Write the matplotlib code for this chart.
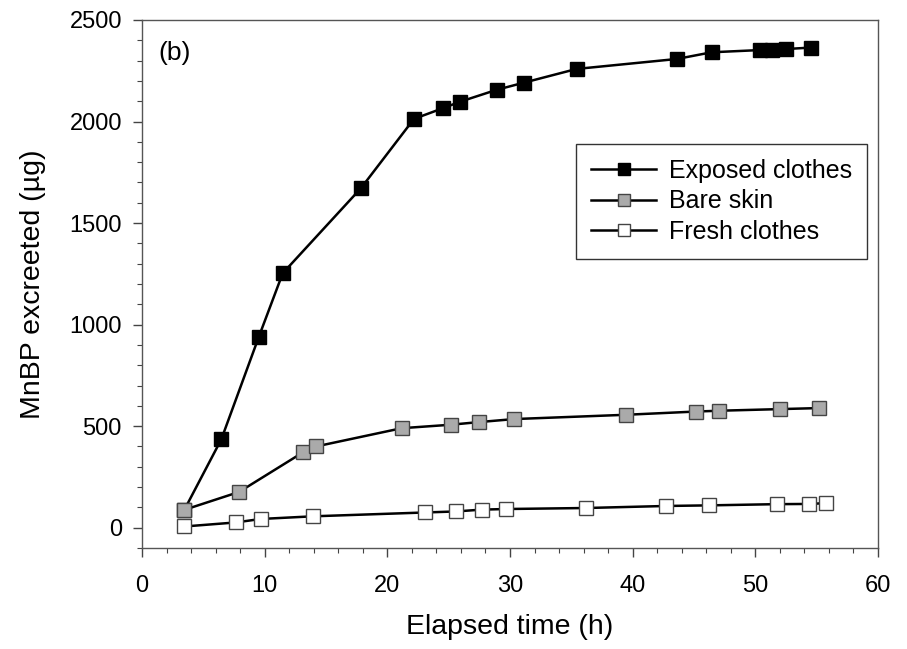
import matplotlib
matplotlib.use("Agg")
import matplotlib.pyplot as plt
from matplotlib.ticker import MultipleLocator

plt.rcParams['font.family'] = ['Liberation Sans', 'DejaVu Sans']

# ---------------- DATA ----------------
exposed_t = [3.45, 6.47, 9.51, 11.47, 17.85, 22.17, 24.5, 25.95, 28.9, 31.17,
             35.43, 43.6, 46.44, 50.4, 51.4, 52.5, 54.5]
exposed_v = [88, 436, 938, 1253, 1672, 2013, 2065, 2098, 2156, 2192,
             2259, 2308, 2341, 2352, 2354, 2357, 2364]

skin_t = [3.45, 7.91, 13.12, 14.18, 21.17, 25.16, 27.45, 30.35,
          39.43, 45.16, 47.06, 52.0, 55.16]
skin_v = [88, 176, 371, 400, 490, 507, 520, 535,
          556, 572, 576, 584, 589]

fresh_t = [3.45, 7.66, 9.67, 13.9, 23.07, 25.57, 27.69, 29.67,
           36.2, 42.7, 46.25, 51.8, 54.4, 55.76]
fresh_v = [6, 26, 43, 56, 75, 80, 89, 92,
           97, 107, 110, 116, 117, 121]

# ---------------- PLOT ----------------
fig = plt.figure(figsize=(9.07, 6.49), dpi=100)
ax = fig.add_axes([0.1566, 0.1556, 0.8114, 0.8136])

ax.plot(exposed_t, exposed_v, '-s', color='black', lw=1.8, ms=9.5,
        mfc='black', mec='black', label='Exposed clothes', zorder=3)
ax.plot(skin_t, skin_v, '-s', color='black', lw=1.8, ms=9.5,
        mfc='#aaaaaa', mec='#444444', mew=1.0, label='Bare skin', zorder=4)
ax.plot(fresh_t, fresh_v, '-s', color='black', lw=1.8, ms=9.5,
        mfc='white', mec='#444444', mew=1.0, label='Fresh clothes', zorder=5)

ax.set_xlim(0, 60)
ax.set_ylim(-100, 2500)
ax.xaxis.set_major_locator(MultipleLocator(10))
ax.xaxis.set_minor_locator(MultipleLocator(2))
ax.yaxis.set_major_locator(MultipleLocator(500))
ax.yaxis.set_minor_locator(MultipleLocator(100))
ax.tick_params(which='major', direction='out', length=6.5, width=1,
               color='#444444', labelsize=17)
ax.tick_params(which='minor', direction='out', length=3.5, width=0.8,
               color='#444444')
ax.tick_params(axis='x', which='major', pad=13)
ax.tick_params(axis='y', which='major', pad=8)
for sp in ax.spines.values():
    sp.set_color('#555555')
    sp.set_linewidth(1.0)

ax.set_xlabel('Elapsed time (h)', fontsize=20.5, labelpad=12)
ax.set_ylabel('MnBP excreeted (µg)', fontsize=20.5, labelpad=17)
ax.text(0.022, 0.96, '(b)', transform=ax.transAxes, fontsize=19,
        ha='left', va='top')

# legend box sits right of centre, just below the top curve
leg = ax.legend(loc='upper right', bbox_to_anchor=(0.985, 0.765),
                fontsize=18, frameon=True, fancybox=False, borderpad=0.6,
                handlelength=2.6, handletextpad=0.5, labelspacing=0.25,
                borderaxespad=0.0, markerscale=0.85)
leg.get_frame().set_edgecolor('black')
leg.get_frame().set_linewidth(1.0)

fig.savefig('out.png', dpi=100)
